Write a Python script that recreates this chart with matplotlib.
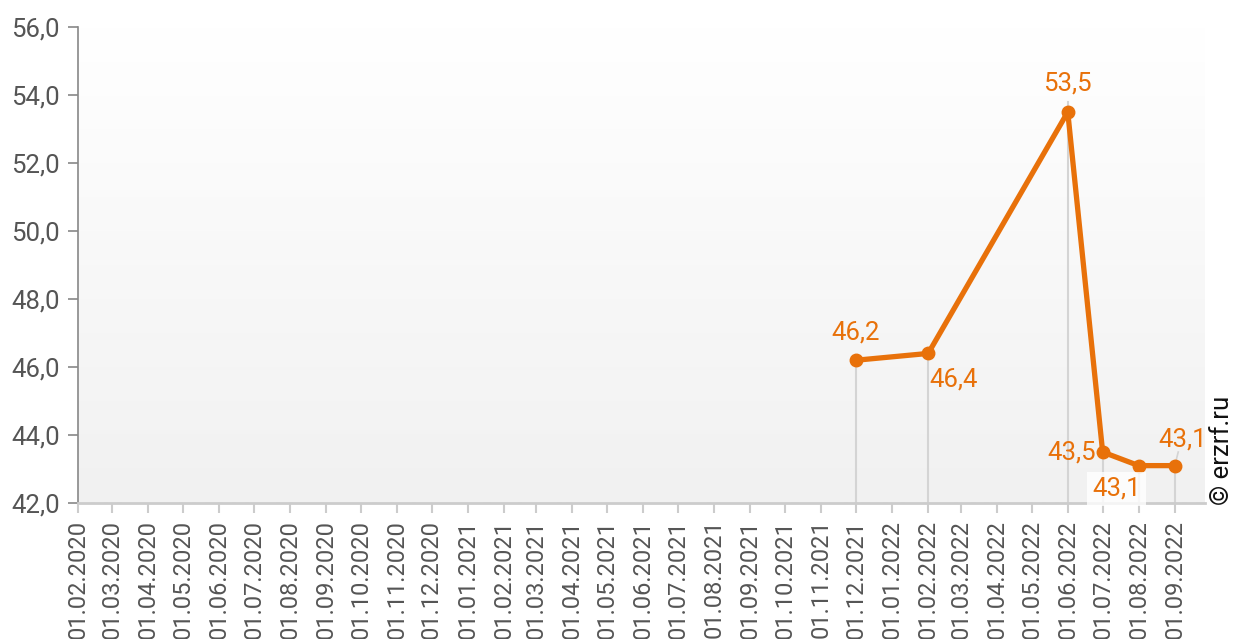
import matplotlib
matplotlib.use("Agg")
import matplotlib.pyplot as plt
import matplotlib.dates as mdates
from matplotlib.ticker import FuncFormatter, MultipleLocator
from matplotlib.colors import LinearSegmentedColormap
import numpy as np
import datetime as dt

plt.rcParams['font.family'] = ['Roboto', 'DejaVu Sans']

# Data
dates = ["2021-12-01", "2022-02-01", "2022-06-01", "2022-07-01", "2022-08-01", "2022-09-01"]
values = [46.2, 46.4, 53.5, 43.5, 43.1, 43.1]
label_offsets = [(0, 11), (1, -10), (0, 12), (-5, 0), (-16, -8), (6, 10)]
label_align = [("center", "bottom"), ("left", "top"), ("center", "bottom"),
               ("right", "center"), ("center", "top"), ("center", "bottom")]

x = [dt.datetime.strptime(d, "%Y-%m-%d") for d in dates]

ORANGE = "#e8710a"
FS = 18.5
XFS = 17

fig = plt.figure(figsize=(12.35, 6.39), dpi=100)
ax = fig.add_axes([0.0632, 0.2128, 0.9125, 0.7449])

xlim = (dt.datetime(2020, 2, 1), dt.datetime(2022, 9, 27))
ax.set_xlim(*xlim)
ax.set_ylim(42, 56)

# gradient background
grad = np.linspace(0, 1, 256).reshape(-1, 1)
cmap = LinearSegmentedColormap.from_list("bg", ["#ffffff", "#f1f1f1"])
xl = ax.get_xlim()
ax.imshow(grad, aspect="auto", cmap=cmap, extent=[xl[0], xl[1], 42, 56],
          origin="upper", zorder=0)
ax.set_xlim(*xlim)
ax.set_ylim(42, 56)

# drop lines
for xi, yi in zip(x, values):
    ax.plot([xi, xi], [42, yi], color="#d4d4d4", lw=1.5, zorder=1)
ax.plot([x[2], x[2]], [values[2], 53.8], color="#d4d4d4", lw=1.5, zorder=1)
ax.plot([x[5], x[5] + dt.timedelta(days=3)], [values[5], 43.5], color="#d4d4d4", lw=1.2, zorder=1)

ax.plot(x, values, color=ORANGE, lw=3.8, marker="o", markersize=9,
        zorder=3, solid_joinstyle="round")

for i, (xi, yi) in enumerate(zip(x, values)):
    txt = f"{yi:.1f}".replace(".", ",")
    ha, va = label_align[i]
    kw = {}
    if i == 4:
        kw["bbox"] = dict(boxstyle="square,pad=0.2", fc="white", ec="none", alpha=0.8)
    ax.annotate(txt, (xi, yi), xytext=label_offsets[i], textcoords="offset points",
                ha=ha, va=va, color=ORANGE, fontsize=FS, zorder=4, **kw)

# axes styling
ax.xaxis.set_major_locator(mdates.MonthLocator(bymonthday=1))
ax.xaxis.set_major_formatter(mdates.DateFormatter("%d.%m.%Y"))
ax.yaxis.set_major_locator(MultipleLocator(2))
ax.yaxis.set_major_formatter(FuncFormatter(lambda v, p: f"{v:.1f}".replace(".", ",")))

ax.tick_params(axis="x", labelsize=XFS, colors="#cccccc",
               length=7, width=1.5, pad=5, labelrotation=90)
ax.tick_params(axis="y", labelsize=FS, colors="#888888",
               length=7, width=1.2, pad=6)
for lbl in ax.get_xticklabels() + ax.get_yticklabels():
    lbl.set_color("#555555")

for s in ["top", "right"]:
    ax.spines[s].set_visible(False)
ax.spines["left"].set_color("#888888")
ax.spines["left"].set_linewidth(1.2)
ax.spines["bottom"].set_color("#cccccc")
ax.spines["bottom"].set_linewidth(2)

fig.text(0.9895, 0.21, "© erzrf.ru", rotation=90, ha="center", va="bottom",
         fontsize=FS, color="#111111")

fig.savefig("out.png", dpi=100)
